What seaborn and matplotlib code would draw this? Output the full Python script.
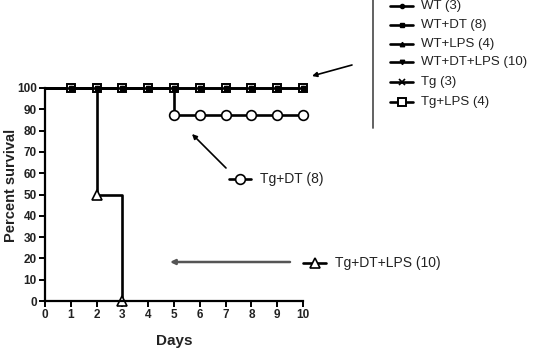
import matplotlib
matplotlib.use("Agg")
import matplotlib.pyplot as plt
import seaborn as sns
import pandas as pd
from matplotlib.lines import Line2D

sns.set_style("ticks")
plt.rcParams['font.family'] = ['Liberation Sans', 'DejaVu Sans']

# ---- data ----
days_full = [0, 1, 2, 3, 4, 5, 6, 7, 8, 9, 10]
surv_full = [100] * 11
days_tgdt = [0, 5, 6, 7, 8, 9, 10]
surv_tgdt = [100, 87.5, 87.5, 87.5, 87.5, 87.5, 87.5]
days_tgdtlps = [0, 2, 3]
surv_tgdtlps = [100, 50, 0]

groups = ["WT (3)", "WT+DT (8)", "WT+LPS (4)", "WT+DT+LPS (10)", "Tg (3)", "Tg+LPS (4)"]
xticks = list(range(0, 11))
yticks = list(range(0, 101, 10))

W, H = 537, 351
fig = plt.figure(figsize=(W / 100, H / 100), dpi=100)
ax = fig.add_axes([45 / W, 1 - 301 / H, (303 - 45) / W, (301 - 88) / H])

styles = {
    "Tg+LPS (4)": dict(marker='s', markersize=6.3, markerfacecolor='white', markeredgewidth=1.4),
    "Tg (3)": dict(marker='x', markersize=5, markeredgewidth=1.2),
    "WT (3)": dict(marker='o', markersize=3.0, markerfacecolor='black'),
    "WT+LPS (4)": dict(marker='^', markersize=3.2, markerfacecolor='black'),
    "WT+DT+LPS (10)": dict(marker='v', markersize=3.2, markerfacecolor='black'),
    "WT+DT (8)": dict(marker='s', markersize=3.0, markerfacecolor='black'),
}
order = ["Tg (3)", "Tg+LPS (4)", "WT (3)", "WT+LPS (4)", "WT+DT+LPS (10)", "WT+DT (8)"]

# Tg+DT+LPS
sns.lineplot(x=days_tgdtlps, y=surv_tgdtlps, ax=ax, color='black', lw=1.9,
             drawstyle='steps-post', marker='^', markersize=6.5, markerfacecolor='white',
             markeredgecolor='black', markeredgewidth=1.2, markevery=[1, 2], clip_on=False)
# Tg+DT
sns.lineplot(x=days_tgdt, y=surv_tgdt, ax=ax, color='black', lw=1.9,
             drawstyle='steps-post', marker='o', markersize=7, markerfacecolor='white',
             markeredgecolor='black', markeredgewidth=1.2, markevery=slice(1, None), clip_on=False)
for i, g in enumerate(order):
    st = dict(styles[g])
    sns.lineplot(x=days_full, y=surv_full, ax=ax, color='black',
                 lw=1.9 if i == 0 else 0,
                 drawstyle='steps-post', markeredgecolor='black',
                 markevery=slice(1, None), clip_on=False, **st)
# line on top through the square markers
sns.lineplot(x=days_full, y=surv_full, ax=ax, color='black', lw=1.9, clip_on=False)
sns.lineplot(x=days_full, y=surv_full, ax=ax, color='black', lw=0, marker='s',
             markersize=3.0, markeredgecolor='black', markevery=slice(1, None), clip_on=False)

ax.set_xlim(0, 10)
ax.set_ylim(0, 100)
ax.set_xticks(xticks)
ax.set_yticks(yticks)
ax.set_xticklabels([str(t) for t in xticks], fontsize=8.5, fontweight='bold')
ax.set_yticklabels([str(t) for t in yticks], fontsize=8.5, fontweight='bold')
ax.tick_params(direction='out', length=4, width=1.4, pad=2, color='black', labelcolor='#222222')
for s in ['left', 'bottom']:
    ax.spines[s].set_linewidth(1.6)
    ax.spines[s].set_color('black')
sns.despine(ax=ax)
ax.set_xlabel("Days", fontsize=11, fontweight='bold', labelpad=9, color='#222222')
ax.set_ylabel("Percent survival", fontsize=10.5, fontweight='bold', color='#222222')
ax.yaxis.set_label_coords((18 - 45) / 258, (301 - 185) / 213)

# ---- legend-like glyphs in figure pixels ----
def fx(px):
    return px / W

def fy(py):
    return 1 - py / H

def glyph(x0, x1, y, label, st, fs=9.5, gap=8):
    fig.add_artist(Line2D([fx(x0), fx(x1)], [fy(y), fy(y)], color='black', lw=1.9,
                          transform=fig.transFigure))
    fig.add_artist(Line2D([fx((x0 + x1) / 2)], [fy(y)], color='black', linestyle='none',
                          markeredgecolor='black', transform=fig.transFigure, **st))
    fig.text(fx(x1 + gap), fy(y), label, fontsize=fs, va='center', ha='left', color='#222222')

legend_y = [6, 25, 44, 62, 82, 102]
for g, y in zip(groups, legend_y):
    st = dict(styles[g])
    glyph(390, 413, y, g, st)
fig.add_artist(Line2D([fx(373), fx(373)], [fy(0), fy(128)], color='#555555', lw=1.3,
                      transform=fig.transFigure))

glyph(229, 251, 179, "Tg+DT (8)",
      dict(marker='o', markersize=7, markerfacecolor='white', markeredgewidth=1.2), fs=10, gap=9)
glyph(303, 326, 263, "Tg+DT+LPS (10)",
      dict(marker='^', markersize=6.5, markerfacecolor='white', markeredgewidth=1.2), fs=10, gap=9)

# arrows
def arrow(x0, y0, x1, y1, color='black', lw=1.2):
    ax.annotate("", xy=(x1, H - y1), xytext=(x0, H - y0), xycoords='figure pixels',
                textcoords='figure pixels', annotation_clip=False,
                arrowprops=dict(arrowstyle='-|>', color=color, lw=lw,
                                mutation_scale=7, shrinkA=0, shrinkB=0))

arrow(352, 65, 312, 76)
arrow(226, 168, 192, 134)
arrow(290, 262, 170, 262, color='#555555', lw=1.8)

fig.savefig("out.png", dpi=100)
